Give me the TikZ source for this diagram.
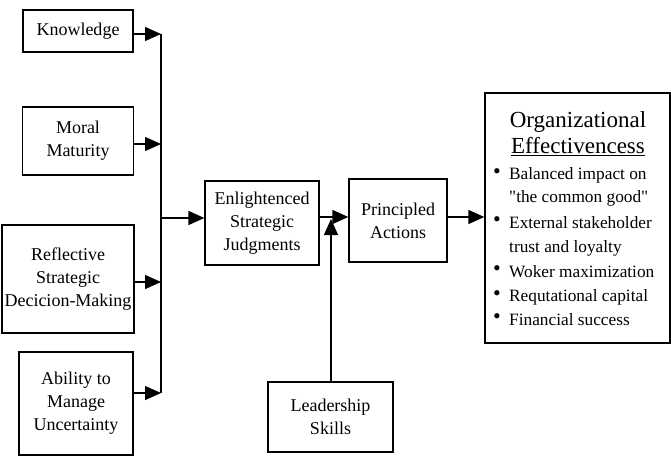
\documentclass[tikz,border=0pt]{standalone}
\usepackage{fontspec}
\setmainfont{Liberation Serif}[Ligatures=TeXOff]
\usetikzlibrary{arrows.meta}
\begin{document}
\begin{tikzpicture}[x=1pt,y=-1pt,
  box/.style={draw,line width=1.3pt,rectangle,inner sep=0pt,align=center,
    font=\fontsize{18}{23}\selectfont},
  conn/.style={line width=1.3pt,-{Triangle[length=16pt,width=14pt]}},
  plain/.style={line width=1.3pt},
  btxt/.style={anchor=west,inner sep=0pt,font=\fontsize{17.3}{23}\selectfont},
  bul/.style={anchor=center,inner sep=0pt,text height=7pt,text depth=0pt,font=\fontsize{22}{22}\selectfont}]
\useasboundingbox (0,0) rectangle (671,457);
% left boxes
\node[box,minimum width=110pt,minimum height=42pt] (kn) at (78,31) {Knowledge};
\node[box,minimum width=111pt,minimum height=68pt] (mm) at (78,141) {Moral\\Maturity};
\node[box,minimum width=132pt,minimum height=108pt] (rs) at (68,279) {Reflective\\Strategic\\Decicion-Making};
\node[box,minimum width=114pt,minimum height=103pt] (am) at (76,403.5) {Ability to\\Manage\\Uncertainty};
% bus
\coordinate (bt) at (161,34);
\coordinate (bb) at (161,393);
\coordinate (bo) at (161,218);
\draw[plain] (bt) -- (bb);
\draw[conn] (kn.east |- bt) -- (bt);
\draw[conn] (mm.east |- 0,144) -- (161,144);
\draw[conn] (rs.east |- 0,282) -- (161,282);
\draw[conn] (am.east |- bb) -- (bb);
% middle
\node[box,minimum width=114pt,minimum height=84pt] (es) at (262,223) {Enlightenced\\Strategic\\Judgments};
\node[box,minimum width=98pt,minimum height=83pt] (pa) at (398,220.5) {Principled\\Actions};
\node[box,minimum width=125pt,minimum height=70pt] (ls) at (330.5,417) {Leadership\\Skills};
\draw[conn] (bo) -- (es.west |- bo);
\draw[conn] (es.east |- 0,217) -- (pa.west |- 0,217);
\coordinate (lt) at (331,219);
\draw[conn] (ls.north -| lt) -- (lt);
% outcome
\node[draw,line width=1.3pt,minimum width=185pt,minimum height=250pt,inner sep=0pt] (oe) at (577.5,218) {};
\draw[conn] (pa.east |- 0,217) -- (oe.west |- 0,217);
\node[inner sep=0pt,font=\fontsize{23}{26}\selectfont] (t1) at (578,122) {Organizational};
\node[inner sep=0pt,font=\fontsize{23}{26}\selectfont] (t2) at (578,147) {\underline{Effectivencess}};
\node[btxt] (b1) at (509,175) {Balanced impact on};
\node[btxt] (b2) at (509,198) {"the common good"};
\node[btxt] (b3) at (509,223) {External stakeholder};
\node[btxt] (b4) at (509,248) {trust and loyalty};
\node[btxt] (b5) at (509,272) {Woker maximization};
\node[btxt] (b6) at (509,297) {Requtational capital};
\node[btxt] (b7) at (509,320) {Financial success};
\foreach \yy [count=\i] in {175,223,272,297,320}{
  \node[bul] (d\i) at (497,\yy) {•};
}
\end{tikzpicture}
\end{document}
